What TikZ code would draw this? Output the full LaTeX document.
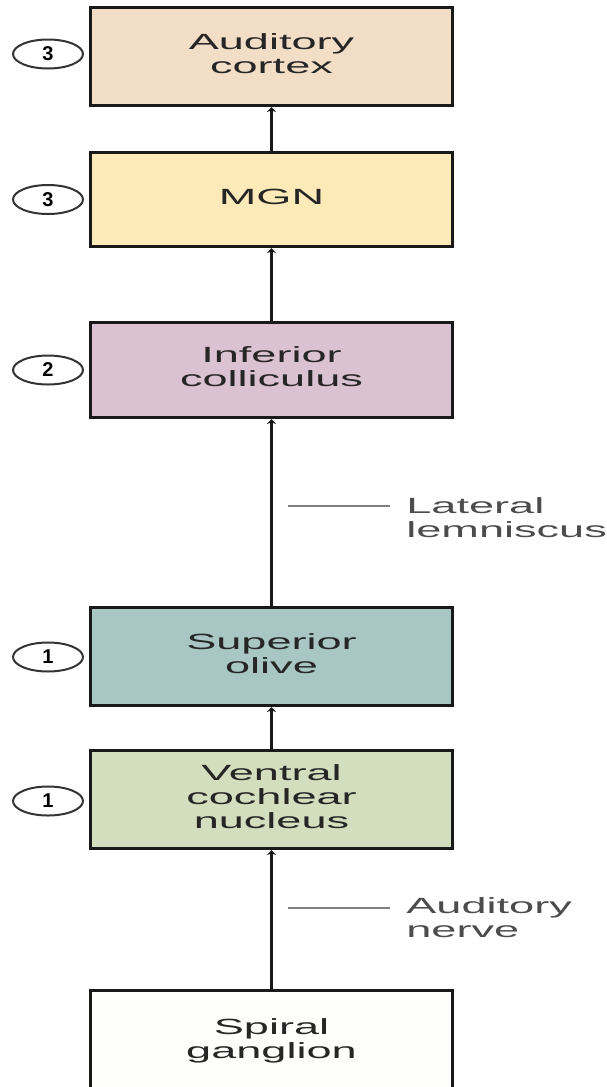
\documentclass[tikz,border=0pt]{standalone}
\usepackage{fontspec}
\setmainfont{Liberation Sans}
\usepackage{graphicx}
\usetikzlibrary{arrows.meta,positioning,shapes.geometric}
\usepackage{xcolor}
\definecolor{cortexfill}{HTML}{F2DEC6}
\definecolor{mgnfill}{HTML}{FDEAB9}
\definecolor{colliculusfill}{HTML}{DBC2D3}
\definecolor{olivefill}{HTML}{A8C6C4}
\definecolor{cochlearfill}{HTML}{D3DEBF}
\definecolor{gangliofill}{HTML}{FEFEFC}
\newcommand{\widec}[1]{\scalebox{2.05}[1]{\begin{tabular}{@{}c@{}}#1\end{tabular}}}
\newcommand{\widel}[1]{\scalebox{2.05}[1]{\begin{tabular}{@{}l@{}}#1\end{tabular}}}

\begin{document}
\begin{tikzpicture}[
    x=0.5pt,y=-0.5pt,
    stage/.style={rectangle,minimum width=181pt,minimum height=49pt,inner sep=0pt,draw=black!90,line width=1.5pt,text=black!85,font=\fontsize{11}{12}\selectfont},
    level/.style={ellipse,minimum width=35pt,minimum height=14.5pt,inner sep=0pt,draw=black!80,line width=1pt,fill=white,font=\bfseries\fontsize{10}{10}\selectfont},
    tract/.style={inner sep=0pt,anchor=north west,text=black!70,font=\fontsize{11}{12}\selectfont},
    arrow/.style={-{Stealth[length=2.5pt,width=4.5pt]},line width=1.5pt,draw=black!90},
    pointer/.style={line width=1pt,draw=black!50}
]
\useasboundingbox (0,0) rectangle (606,1087);

% Stages
\node[stage,fill=cortexfill] (cortex) at (271.5,56.5) {\widec{Auditory\\cortex}};
\node[stage,fill=mgnfill,minimum height=47pt] (mgn) at (271.5,199.5) {\widec{MGN}};
\node[stage,fill=colliculusfill,minimum height=47.5pt] (colliculus) at (271.5,370) {\widec{Inferior\\colliculus}};
\node[stage,fill=olivefill] (olive) at (271.5,656.5) {\widec{Superior\\olive}};
\node[stage,fill=cochlearfill] (cochlear) at (271.5,799.5) {\widec{Ventral\\cochlear\\nucleus}};
\node[stage,fill=gangliofill,minimum height=52pt] (ganglion) at (271.5,1042) {\widec{Spiral\\ganglion}};

% Levels
\node[level] (lvcortex) at (48,54) {3};
\node[level] (lvmgn) at (48,199.5) {3};
\node[level] (lvcolliculus) at (48,370) {2};
\node[level] (lvolive) at (48,657) {1};
\node[level] (lvcochlear) at (48,801) {1};

% Tracts
\node[tract] (lemniscus) at (406,496) {\widel{Lateral\\lemniscus}};
\node[tract] (nerve) at (406,896) {\widel{Auditory\\nerve}};
\coordinate (lemstart) at (288,506);
\coordinate (lemend) at (390,506);
\coordinate (nervestart) at (288,908);
\coordinate (nerveend) at (390,908);

% Arrows
\draw[arrow] (ganglion) -- (cochlear);
\draw[arrow] (cochlear) -- (olive);
\draw[arrow] (olive) -- (colliculus);
\draw[arrow] (colliculus) -- (mgn);
\draw[arrow] (mgn) -- (cortex);
\draw[pointer] (lemstart) -- (lemend);
\draw[pointer] (nervestart) -- (nerveend);
\end{tikzpicture}
\end{document}
